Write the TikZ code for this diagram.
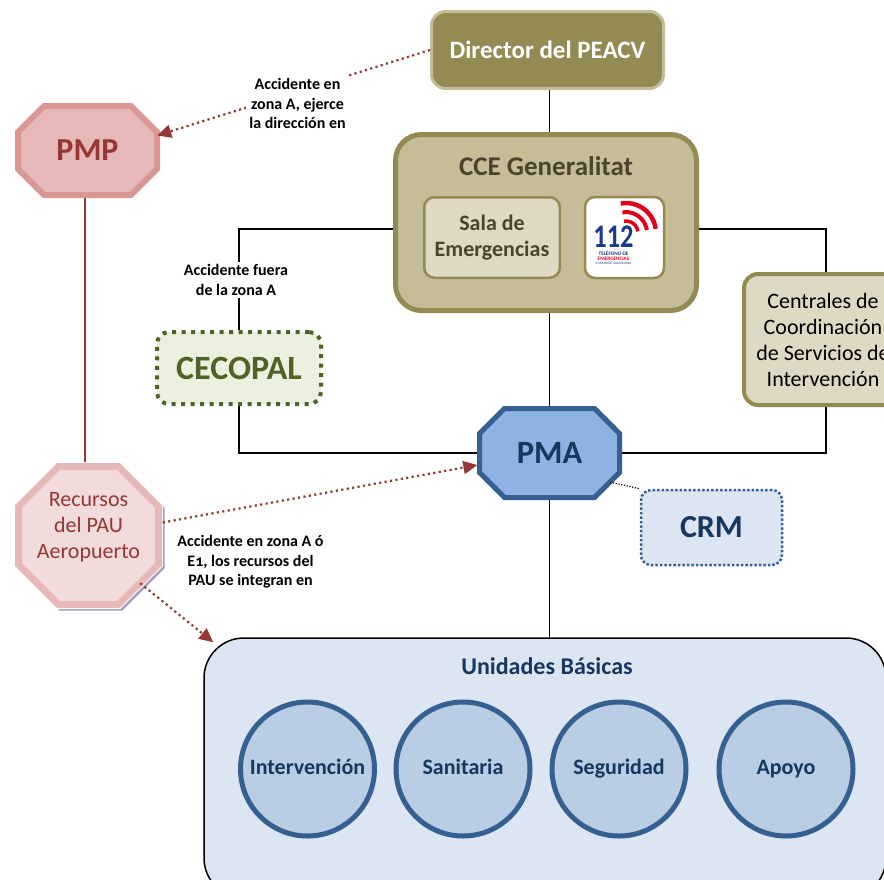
\documentclass[tikz,border=0pt]{standalone}
\usepackage{fontspec}
\setmainfont{Carlito}
\usetikzlibrary{arrows.meta,backgrounds}
\definecolor{cOlive}{HTML}{948A54}
\definecolor{cOliveL}{HTML}{C4BD97}
\definecolor{cOliveP}{HTML}{DDD9C3}
\definecolor{cOliveD}{HTML}{4A452A}
\definecolor{cGreen}{HTML}{4F6228}
\definecolor{cGreenP}{HTML}{EBF1DE}
\definecolor{cBlue}{HTML}{366092}
\definecolor{cBlueF}{HTML}{8DB3E2}
\definecolor{cBlueT}{HTML}{17375E}
\definecolor{cBlueP}{HTML}{DCE6F2}
\definecolor{cBlueC}{HTML}{B9CDE5}
\definecolor{cRed}{HTML}{953735}
\definecolor{cPink}{HTML}{E6B9B8}
\definecolor{cPinkD}{HTML}{D99694}
\definecolor{cPinkP}{HTML}{F2DCDB}
\definecolor{cShadow}{HTML}{9F9ABC}
\definecolor{cLogoB}{HTML}{1B3A8C}
\definecolor{cLogoR}{HTML}{E2001A}
\newcommand\fs[2]{\fontsize{#1}{#2}\selectfont}
\newcommand\octdraw[6]{\path[#1] (#2-#4+#6,#3-#5) -- (#2+#4-#6,#3-#5) -- (#2+#4,#3-#5+#6) -- (#2+#4,#3+#5-#6) -- (#2+#4-#6,#3+#5) -- (#2-#4+#6,#3+#5) -- (#2-#4,#3+#5-#6) -- (#2-#4,#3-#5+#6) -- cycle;}
\begin{document}
\begin{tikzpicture}[x=1pt,y=-1pt,
  conn/.style={draw=black, line width=1.5pt},
  redarr/.style={draw=cRed, line width=2.2pt, dash pattern=on 2.2pt off 3.3pt, -{Triangle[length=14pt,width=13pt]}},
  lbl/.style={font=\bfseries\fs{16}{19.5}, align=center, text=black, inner sep=3pt},
  rbox/.style={rectangle, rounded corners=#1, inner sep=0pt},
]
\useasboundingbox (0,0) rectangle (884,879);
\clip (0,0) rectangle (884,879);

% Director
\node (dir) [rbox=14pt, fill=cOlive, draw=cOliveL, line width=3pt, minimum width=232pt, minimum height=77pt, text=white, font=\bfseries\fs{25}{30}] at (547.5,50) {Director del PEACV};

% CCE
\node (cce) [rbox=26pt, fill=cOliveL, draw=cOlive, line width=5pt, minimum width=301pt, minimum height=176pt] at (546,222.5) {};
\node (ccet) [text=cOliveD, font=\bfseries\fs{27}{32}] at (546,166) {CCE Generalitat};
\node (sala) [rbox=10pt, fill=cOliveP, draw=cOlive, line width=2.5pt, minimum width=135.5pt, minimum height=80.5pt, text=cOliveD, font=\bfseries\fs{22}{26}, align=center] at (492,237.5) {Sala de\\Emergencias};
\node (logo) [rbox=10pt, fill=white, draw=cOlive, line width=2.5pt, minimum width=79pt, minimum height=81pt] at (624.5,237.5) {};
\node (n112) [inner sep=0, text=cLogoB, font=\bfseries\fs{33}{33}] at (613.5,237) {\scalebox{0.8}[1]{112}};
\node (tel) [inner sep=0, text=cLogoB, font=\bfseries\fs{5.2}{5.2}] at (613.5,253.3) {TELÉFONO DE};
\node (emer) [inner sep=0, text=cLogoR, font=\bfseries\fs{5.2}{5.2}] at (613.5,258.8) {EMERGENCIAS};
\node (cv) [inner sep=0, text=cLogoB, font=\fs{3.4}{3.4}] at (613.5,263.8) {COMUNITAT VALENCIANA};
\coordinate (arcc) at (626,233);
\foreach \r/\w in {12/3.5,21/4,30/4.5}
  \draw[cLogoR, line width=\w pt] ([shift={(100:\r pt)}]arcc) arc[start angle=100, end angle=8, radius=\r pt];

% Centrales
\node (cent) [rbox=14pt, fill=cOliveP, draw=cOlive, line width=4pt, minimum width=158pt, minimum height=131pt, font=\fs{22}{26}, align=center] at (823,339.5) {Centrales de\\Coordinación\\de Servicios de\\Intervención};

% CECOPAL
\node (cecopal) [rbox=12pt, fill=cGreenP, draw=cGreen, line width=4pt, dash pattern=on 4pt off 5.5pt, minimum width=164pt, minimum height=72pt, text=cGreen, font=\bfseries\fs{34}{40}] at (239,368) {CECOPAL};

% PMA
\octdraw{fill=cBlueF, draw=cBlue, line width=5pt}{549.5}{453}{70}{44.5}{25}
\node (pma) [inner sep=0, minimum width=140pt, minimum height=89pt, text=cBlueT, font=\bfseries\fs{32.5}{38}] at (549.5,453) {PMA};

% CRM
\node (crm) [rbox=10pt, fill=cBlueP, draw=cBlue, line width=2.5pt, dash pattern=on 2.5pt off 2pt, minimum width=141pt, minimum height=75pt, text=cBlueT, font=\bfseries\fs{32}{38}] at (711.5,527.5) {CRM};

% PMP
\octdraw{fill=cPink, draw=cPinkD, line width=6pt}{87.5}{150.5}{69.5}{44.5}{26}
\node (pmp) [inner sep=0, minimum width=139pt, minimum height=89pt, text=cRed, font=\bfseries\fs{32}{38}] at (87.5,150.5) {PMP};

% Recursos PAU
\octdraw{fill=cShadow, draw=cShadow, line width=7pt}{91}{538}{70}{69}{40}
\octdraw{draw=white, line width=9pt}{88.5}{535.5}{70}{69}{40}
\octdraw{fill=cPinkP, draw=cPink, line width=7pt}{88.5}{535.5}{70}{69}{40}
\node (rec) [inner sep=0, minimum width=140pt, minimum height=138pt] at (88.5,535.5) {};
\node (rect) [text=cRed, font=\fs{22}{26}, align=center] at (88.5,527) {Recursos\\del PAU\\Aeropuerto};

% Unidades Basicas
\node (ub) [rbox=40pt, fill=cBlueP, draw=black, line width=1.5pt, minimum width=682pt, minimum height=260pt] at (545,768) {};
\node (ubt) [text=cBlueT, font=\bfseries\fs{24}{28}] at (547,666) {Unidades Básicas};
\foreach \n/\x/\t in {c1/307.5/Intervención, c2/463/Sanitaria, c3/619/Seguridad, c4/786/Apoyo}
  \node (\n) [circle, fill=cBlueC, draw=cBlue, line width=5pt, minimum size=134pt, inner sep=0, text height=15pt, text depth=4pt, text=cBlueT, font=\bfseries\fs{22}{26}] at (\x,769) {\t};

% black connectors
\begin{pgfonlayer}{background}
\draw[conn] (dir.south -| pma.north) -- (cce.north -| pma.north);
\draw[conn] ([yshift=-6.5pt]cce.west) -| (cecopal.north);
\draw[conn] (cecopal.south) |- (pma.west);
\draw[conn] ([yshift=-6.5pt]cce.east) -| ([xshift=3pt]cent.north);
\draw[conn] ([xshift=3pt]cent.south) |- (pma.east);
\draw[conn] (pma.north |- cce.south) -- (pma.north);
\draw[conn] (pma.south) -- (pma.south |- ub.north);
\draw[draw=cRed, line width=1.5pt] ([xshift=-2.5pt]pmp.south) -- ([xshift=-2.5pt]pmp.south |- rec.north);
\end{pgfonlayer}

% red arrows and labels
\draw[redarr] (dir.west) -- ([yshift=15pt]pmp.east);
\node (lab1) [lbl, fill=white] at (297.5,103.5) {Accidente en\\zona A, ejerce\\la dirección en};
\node (lab2) [lbl, fill=white] at (236,280) {Accidente fuera\\de la zona A};
\draw[redarr] ([shift={(4pt,13pt)}]rec.east) -- ([shift={(-2pt,-12pt)}]pma.west);
\draw[redarr] ([shift={(-18.5pt,21.5pt)}]rec.south east) -- ([shift={(10pt,-5pt)}]ub.north west);
\node (lab3) [lbl] at (250.5,562) {Accidente en zona A ó\\E{\addfontfeatures{Numbers=OldStyle}1}, los recursos del\\PAU se integran en};
\draw[black, line width=1.2pt, dash pattern=on 1.2pt off 1.6pt] ([shift={(-9.5pt,15.5pt)}]pma.south east) -- (crm.north west);
\end{tikzpicture}
\end{document}
